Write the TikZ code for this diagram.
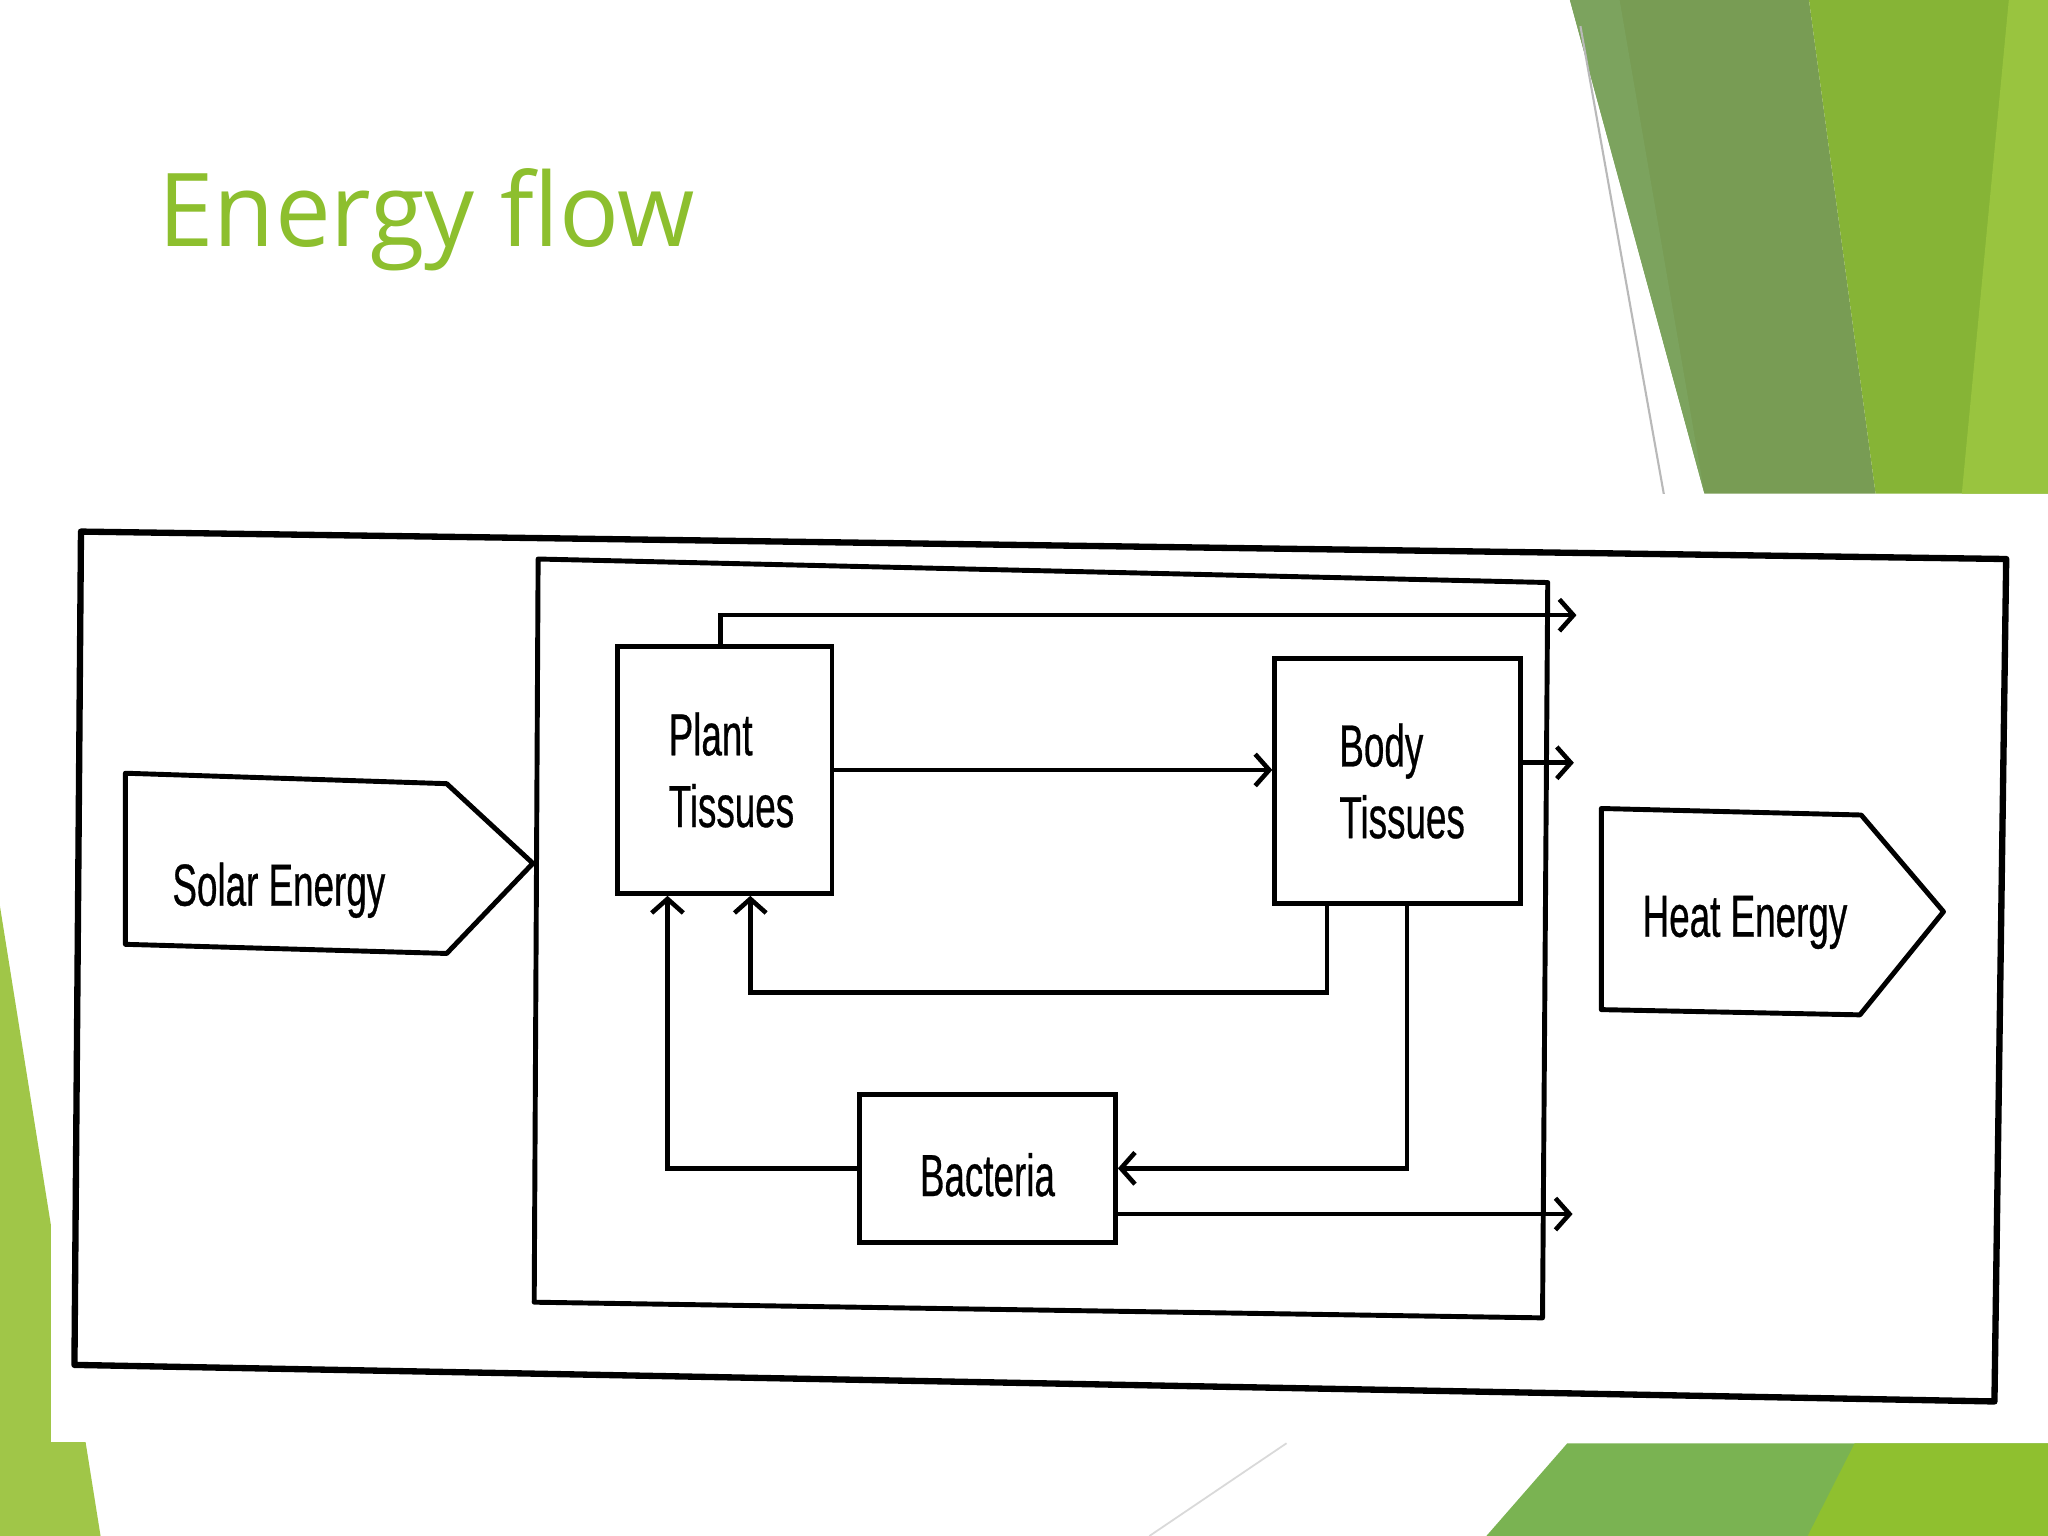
\documentclass[tikz,border=0pt]{standalone}
\usepackage{fontspec}
\setmainfont{Liberation Sans}
\newfontfamily\diagfont[FakeStretch=0.62,FakeBold=0.5]{Liberation Sans}
\newfontfamily\titlefont[FakeStretch=0.975]{Open Sans}
\usetikzlibrary{arrows.meta,calc}
\newlength\dpx
\setlength\dpx{0.013061cm}
\definecolor{titlegreen}{HTML}{8DBF2E}
\definecolor{bandA}{HTML}{789C54}
\definecolor{bandAl}{HTML}{7CA35E}
\definecolor{bandB}{HTML}{86B436}
\definecolor{bandC}{HTML}{99C43F}
\definecolor{leftgreen}{HTML}{A0C648}
\definecolor{botA}{HTML}{7AB352}
\definecolor{botB}{HTML}{8FC02F}
\tikzset{
  boxnode/.style={draw=black, line width=1.4pt, inner sep=0pt, font=\diagfont\fontsize{16.9pt}{20.4pt}\selectfont, align=left},
  lbl/.style={inner sep=0pt, anchor=base, font=\diagfont\fontsize{16.9pt}{20.4pt}\selectfont},
  arr/.style={line width=1.3pt, -{Straight Barb[length=4pt,width=9pt,line width=1.3pt]}},
  frame/.style={line width=1.4pt, line join=round},
}
\begin{document}
\begin{tikzpicture}[x=0.013061cm, y=-0.013061cm]
\useasboundingbox (0,0) rectangle (1568,1176);
\fill[white] (0,0) rectangle (1568,1176);
% decorative green shapes
\fill[leftgreen] (0,694) -- (77,1176) -- (0,1176) -- cycle;
\fill[bandA] (1202,0) -- (1385,0) -- (1436,378) -- (1305,378) -- cycle;
\fill[bandAl] (1202,0) -- (1240,0) -- (1305,378) -- cycle;
\fill[bandB] (1385,0) -- (1568,0) -- (1568,378) -- (1436,378) -- cycle;
\fill[bandC] (1538,0) -- (1568,0) -- (1568,378) -- (1502,378) -- cycle;
\draw[gray!55, line width=0.6pt] (1210,20) -- (1274,379);
\fill[botA] (1200,1105) -- (1568,1105) -- (1568,1176) -- (1138,1176) -- cycle;
\fill[botB] (1420,1105) -- (1568,1105) -- (1568,1176) -- (1384,1176) -- cycle;
\draw[gray!30, line width=0.5pt] (985,1105) -- (880,1176);
% white picture area
\fill[white] (39,378) rectangle (1568,1104);
% title
\node[anchor=base west, inner sep=0pt, text=titlegreen, font=\titlefont\fontsize{29pt}{34pt}\selectfont] (title) at (121,188.7) {Energy flow};
% frames
\draw[frame, line width=1.8pt] (62,407) -- (1536,428) -- (1527,1073) -- (57,1045) -- cycle;
\draw[frame] (412,428) -- (1185,446) -- (1181,1009) -- (409,997) -- cycle;
% solar and heat pentagons
\draw[frame] (96,592) -- (342,600) -- (408,661) -- (342,730) -- (96,723) -- cycle;
\node[lbl] (solar) at (213.5,693.4) {Solar Energy};
\draw[frame] (1226,619) -- (1425,624) -- (1488,698) -- (1424,777) -- (1226,773) -- cycle;
\node[lbl] (heat) at (1336,717.2) {Heat Energy};
% boxes
\node[boxnode, minimum width=164\dpx, minimum height=189\dpx] (plant) at (555,589.5) {\hspace*{10\dpx}Plant\\\hspace*{10\dpx}Tissues};
\node[boxnode, minimum width=188\dpx, minimum height=188\dpx] (body) at (1070,598) {\hspace*{7\dpx}Body\\\hspace*{7\dpx}Tissues};
\node[boxnode, minimum width=196\dpx, minimum height=113\dpx, align=center, text height=15.8pt, text depth=0pt] (bact) at (756,894.5) {Bacteria};
% helper points
\coordinate (pn) at ($(plant.north west)!0.48!(plant.north east)$);
\coordinate (ps1) at ($(plant.south west)!0.238!(plant.south east)$);
\coordinate (ps2) at ($(plant.south west)!0.616!(plant.south east)$);
\coordinate (bs1) at ($(body.south west)!0.218!(body.south east)$);
\coordinate (bs2) at ($(body.south west)!0.537!(body.south east)$);
\coordinate (out1) at (1207,471);
\coordinate (out2) at (1205,584);
\coordinate (out3) at (1204,929.5);
\coordinate (loopy) at (0,760);
% connectors
\draw[arr] (pn) |- (out1);
\draw[arr] (plant.east) -- (plant.east -| body.west);
\draw[arr] (out2 -| body.east) -- (out2);
\draw[arr] (out3 -| bact.east) -- (out3);
\draw[arr] (bs1) -- (bs1 |- loopy) -| (ps2);
\draw[arr] (bs2) |- (bact.east);
\draw[arr] (bact.west) -| (ps1);
\end{tikzpicture}
\end{document}
